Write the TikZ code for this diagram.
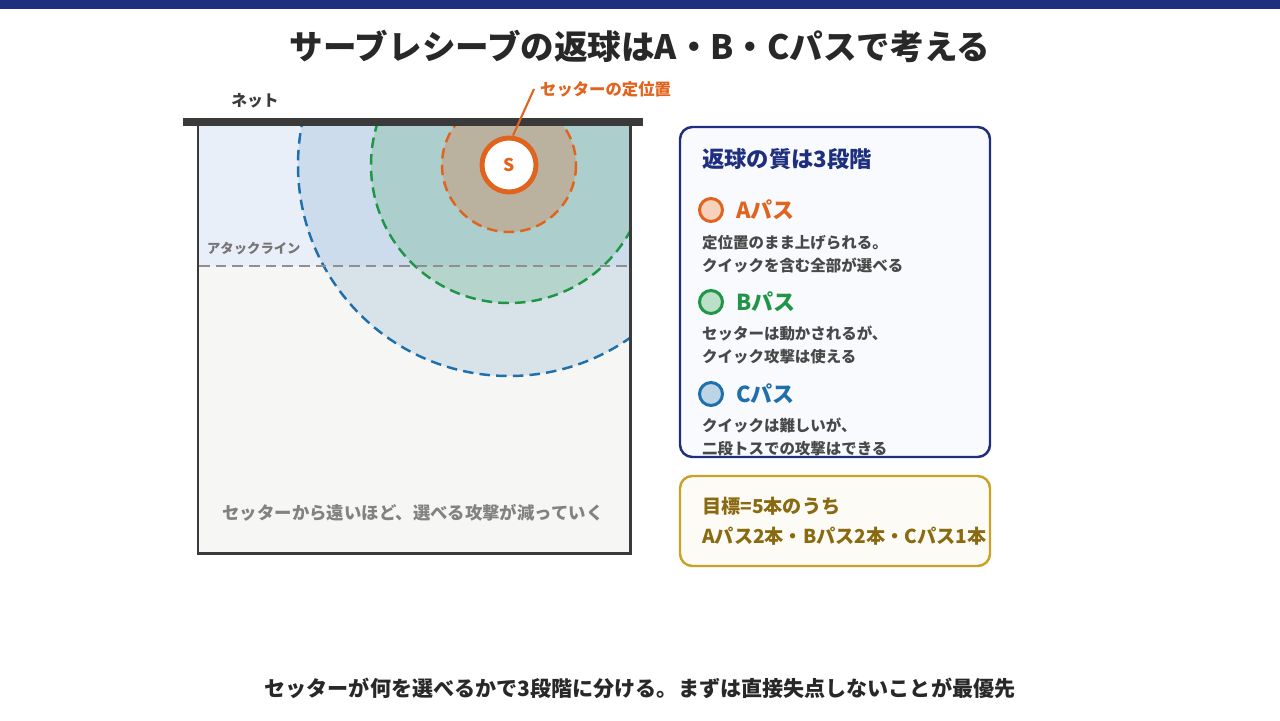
\documentclass[tikz,border=0pt]{standalone}
\usepackage{fontspec}
\setmainfont{Noto Sans CJK JP}
\usepackage{tikz}
\usetikzlibrary{positioning}
\definecolor{headernavy}{RGB}{30, 47, 128}
\definecolor{inkdark}{RGB}{40, 40, 40}
\definecolor{netgray}{RGB}{58, 58, 58}
\definecolor{frontzone}{RGB}{233, 239, 249}
\definecolor{backzone}{RGB}{246, 246, 244}
\definecolor{setterorange}{RGB}{224, 100, 30}
\definecolor{bpassgreen}{RGB}{30, 150, 70}
\definecolor{cpassblue}{RGB}{31, 111, 171}
\definecolor{goldframe}{RGB}{201, 162, 39}
\definecolor{goldtext}{RGB}{138, 106, 16}
\definecolor{mutedgray}{RGB}{130, 130, 130}
\tikzset{
  zonedash/.style={dash pattern=on 6pt off 3.5pt, line width=1.4pt},
  legendmark/.style={circle, line width=1.7pt, minimum size=0.46cm, inner sep=0pt},
  passlabel/.style={anchor=west, font=\fontsize{12.5}{14}\selectfont\bfseries},
  desctext/.style={anchor=west, align=left, text=inkdark!85, font=\fontsize{8.8}{13}\selectfont\bfseries}
}

\begin{document}
\begin{tikzpicture}[x=0.02cm, y=-0.02cm]
    \useasboundingbox (0,0) rectangle (1280,720);
    \fill[headernavy] (0,0) rectangle (1280,9);
    \node (title) at (640,46) {\fontsize{19.1}{21}\selectfont\bfseries\color{inkdark} サーブレシーブの返球はA・B・Cパスで考える};

    % court
    \fill[frontzone] (198,122) rectangle (630,266);
    \fill[backzone] (198,266) rectangle (630,553);
    \coordinate (setterpos) at (509,165);
    \begin{scope}
        \clip (199,124) rectangle (629,552);
        \fill[cpassblue, fill opacity=0.14] (setterpos) circle (211);
        \fill[bpassgreen, fill opacity=0.18] (setterpos) circle (138);
        \fill[setterorange, fill opacity=0.27] (setterpos) circle (67);
        \draw[cpassblue, zonedash] (setterpos) circle (211);
        \draw[bpassgreen, zonedash] (setterpos) circle (138);
        \draw[setterorange, zonedash] (setterpos) circle (67);
    \end{scope}
    \draw[mutedgray!90, line width=1.3pt, dash pattern=on 6pt off 3.5pt] (199,266) -- (629,266);
    \node[anchor=south west, inner sep=1pt, text=mutedgray!90!black, font=\fontsize{7.6}{9}\selectfont\bfseries] (attacklabel) at (205,257) {アタックライン};
    \draw[netgray, line width=1.7pt] (198,122) rectangle (630,553);
    \fill[netgray] (183,118) rectangle (643,126);
    \node[text=netgray, font=\fontsize{9}{11}\selectfont\bfseries] (netlabel) at (255,101) {ネット};
    \node[text=mutedgray, font=\fontsize{9.9}{12}\selectfont\bfseries] (farnote) at (413,513) {セッターから遠いほど、選べる攻撃が減っていく};

    % setter
    \node[circle, draw=setterorange, line width=2.8pt, fill=white, minimum size=1.08cm, inner sep=0pt, text=setterorange, font=\fontsize{10}{12}\selectfont\bfseries] (s) at (setterpos) {S};
    \node[anchor=west, text=setterorange, font=\fontsize{9.3}{11}\selectfont\bfseries] (setterlabel) at (534,89) {セッターの定位置};
    \draw[setterorange, line width=1.2pt] (s.north) ++(4,0) -- (setterlabel.west);

    % legend
    \draw[headernavy, line width=1.4pt, fill=frontzone!30, rounded corners=7pt] (680,127) rectangle (990,457);
    \node[anchor=west, text=headernavy, font=\fontsize{12.7}{14}\selectfont\bfseries] (legendtitle) at (696,159) {返球の質は3段階};

    \node[legendmark, draw=setterorange, fill=setterorange!30] (amark) at (711,210) {};
    \node[passlabel, text=setterorange] (alabel) at (730,210) {Aパス};
    \node[desctext] (adesc) at (696,254) {定位置のまま上げられる。\\クイックを含む全部が選べる};

    \node[legendmark, draw=bpassgreen, fill=bpassgreen!30] (bmark) at (711,302) {};
    \node[passlabel, text=bpassgreen] (blabel) at (730,302) {Bパス};
    \node[desctext] (bdesc) at (696,345) {セッターは動かされるが、\\クイック攻撃は使える};

    \node[legendmark, draw=cpassblue, fill=cpassblue!30] (cmark) at (711,394) {};
    \node[passlabel, text=cpassblue] (clabel) at (730,394) {Cパス};
    \node[desctext] (cdesc) at (696,437) {クイックは難しいが、\\二段トスでの攻撃はできる};

    % goal
    \draw[goldframe, line width=1.4pt, fill=goldframe!4, rounded corners=7pt] (680,476) rectangle (990,566);
    \node[anchor=west, align=left, text=goldtext, font=\fontsize{10.9}{17}\selectfont\bfseries] (goal) at (696,521) {目標=5本のうち\\Aパス2本・Bパス2本・Cパス1本};

    \node[text=inkdark, font=\fontsize{12}{14}\selectfont\bfseries] (caption) at (640,688) {セッターが何を選べるかで3段階に分ける。まずは直接失点しないことが最優先};
\end{tikzpicture}
\end{document}
